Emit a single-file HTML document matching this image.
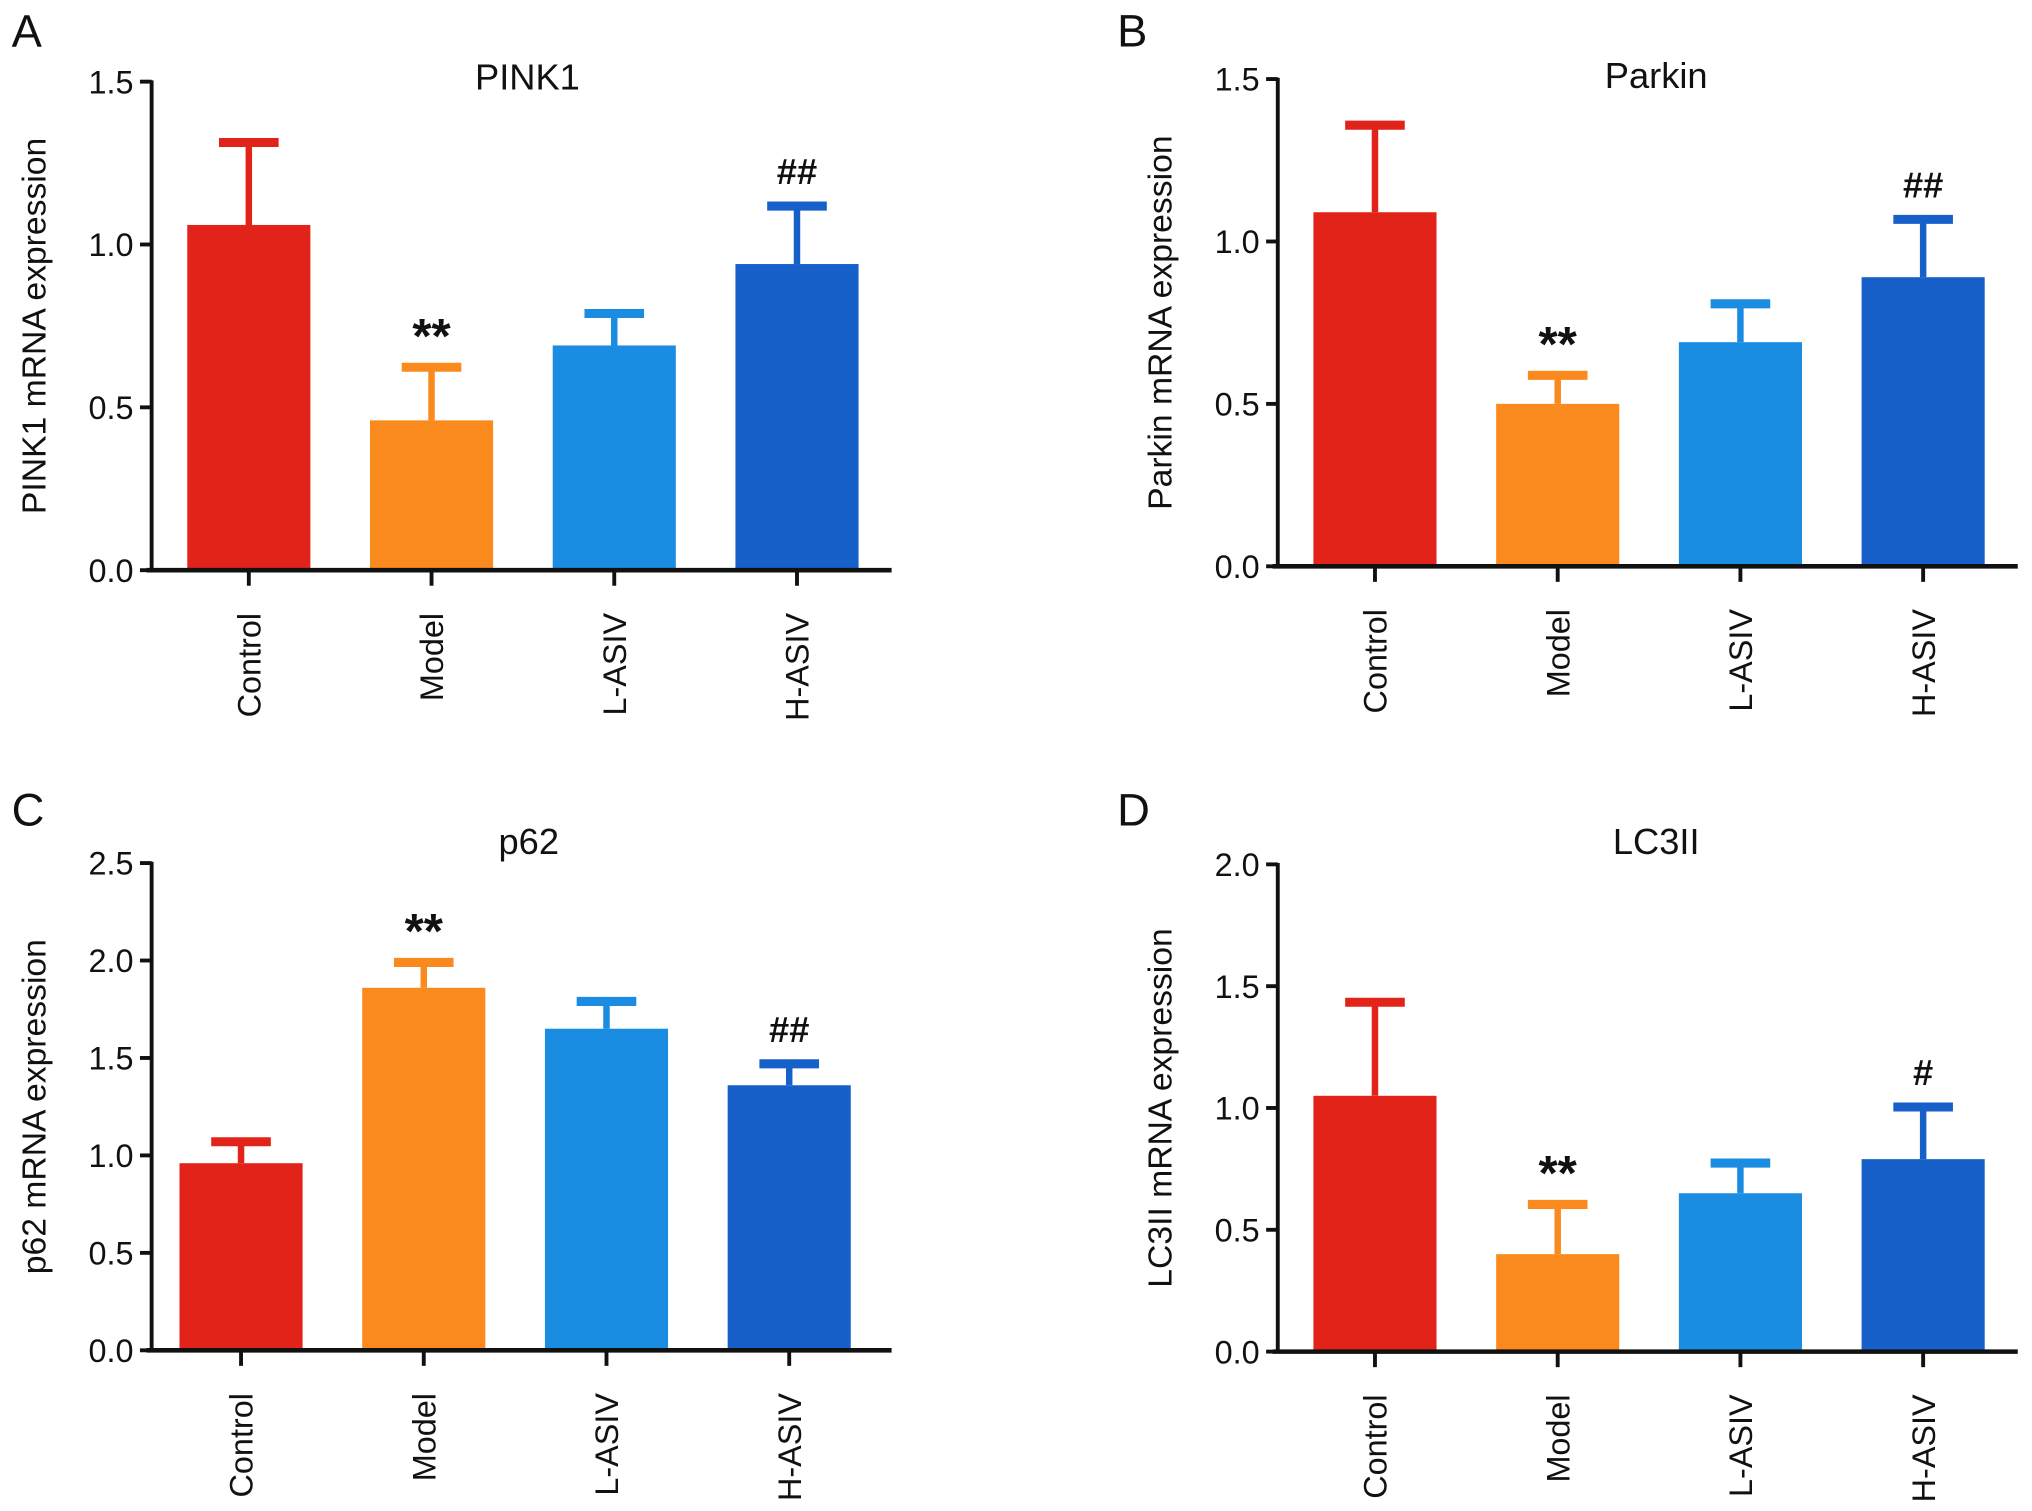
<!DOCTYPE html>
<html><head><meta charset="utf-8"><style>
html,body{margin:0;padding:0;background:#fff;}
svg{display:block;font-family:"Liberation Sans",Arial,sans-serif;}
</style></head><body>
<svg id="fig" width="2032" height="1511" viewBox="0 0 1568 1166" preserveAspectRatio="none" xmlns="http://www.w3.org/2000/svg"></svg>
<script>
const categories = ["Control","Model","L-ASIV","H-ASIV"];
const colors = ["#e2231a","#fb8a1e","#1a8ce2","#1760c9"];
const pinkMeans = [1.06,0.46,0.69,0.94];
const pinkErr = [0.265,0.175,0.11,0.19];
const pinkSig = ["","**","","##"];
const parkinMeans = [1.09,0.50,0.69,0.89];
const parkinErr = [0.28,0.10,0.13,0.19];
const parkinSig = ["","**","","##"];
const p62Means = [0.96,1.86,1.65,1.36];
const p62Err = [0.13,0.15,0.16,0.13];
const p62Sig = ["","**","","##"];
const lc3Means = [1.05,0.40,0.65,0.79];
const lc3Err = [0.40,0.22,0.14,0.23];
const lc3Sig = ["","**","","#"];
const ticks15 = [0,0.5,1.0,1.5];
const ticks25 = [0,0.5,1.0,1.5,2.0,2.5];
const ticks20 = [0,0.5,1.0,1.5,2.0];

const NS="http://www.w3.org/2000/svg";
const svg=document.getElementById('fig');
function mk(tag,attrs,parent){const e=document.createElementNS(NS,tag);for(const k in attrs)e.setAttribute(k,attrs[k]);(parent||svg).appendChild(e);return e;}

function panel(opt){
  const g=mk('g',{});
  
  
  const ax=opt.ax, yTop=opt.yTop, y0=opt.y0, yMax=opt.ticks[opt.ticks.length-1];
  const y=v=>y0-(v/yMax)*(y0-yTop);
  const x0=opt.firstCenter, step=141, bw=95;
  const xc=i=>x0+i*step;
  const L=mk('text',{x:opt.lx,y:opt.ly,'font-size':35,fill:'#111'},g);L.textContent=opt.letter;
  
  
  const T=mk('text',{x:opt.tx,y:opt.ty,'font-size':28,'text-anchor':'middle',fill:'#111'},g);T.textContent=opt.title;
  
  
  const yt=mk('text',{x:0,y:0,'font-size':26,'text-anchor':'middle',fill:'#111',transform:`translate(${ax-82},${(yTop+y0)/2}) rotate(-90)`},g);yt.textContent=opt.ylabel;
  
  
  opt.means.forEach((m,i)=>{
    const top=y(m+opt.err[i]);
    const b=mk('rect',{x:xc(i)-bw/2,y:y(m),width:bw,height:y0-y(m),fill:colors[i]},g);
    
    
    const e=mk('line',{x1:xc(i),x2:xc(i),y1:y(m),y2:top,stroke:colors[i],'stroke-width':5},g);
    
    
    const c=mk('line',{x1:xc(i)-23,x2:xc(i)+23,y1:top+3,y2:top+3,stroke:colors[i],'stroke-width':7},g);
    
    
    if(opt.sig[i]){
      const star=opt.sig[i].startsWith('*');
      const s=mk('text',{x:xc(i),y:top-(star?8:14),'font-size':star?38:28,'font-weight':'bold','text-anchor':'middle',fill:'#111'},g);
      s.textContent=opt.sig[i];
      
      
    }
    const tk=mk('line',{x1:xc(i),x2:xc(i),y1:y0,y2:y0+12,stroke:'#111','stroke-width':3},g);
    
    
    const cl=mk('text',{x:0,y:0,'font-size':25,'text-anchor':'end',fill:'#111',transform:`translate(${xc(i)+9},${y0+33}) rotate(-90)`},g);
    cl.textContent=categories[i];
    
    
  });
  const ya=mk('line',{x1:ax,x2:ax,y1:yTop-1,y2:y0+1.5,stroke:'#111','stroke-width':3},g);
  
  
  const xa=mk('line',{x1:ax-4,x2:ax+571,y1:y0,y2:y0,stroke:'#111','stroke-width':3.5},g);
  
  
  opt.ticks.forEach(t=>{
    const tl=mk('line',{x1:ax-9,x2:ax,y1:y(t),y2:y(t),stroke:'#111','stroke-width':3},g);
    
    
    const tt=mk('text',{x:ax-14,y:y(t)+9,'font-size':25,'text-anchor':'end',fill:'#111'},g);
    tt.textContent=t.toFixed(1);
    
    
  });
}
panel({name:'panel-a-pink1',letter:'A',lx:9,ly:36,title:'PINK1',tx:407,ty:69,ylabel:'PINK1 mRNA expression',ax:117,yTop:63,y0:440,firstCenter:192,means:pinkMeans,err:pinkErr,sig:pinkSig,ticks:ticks15});
panel({name:'panel-b-parkin',letter:'B',lx:862,ly:36,title:'Parkin',tx:1278,ty:68,ylabel:'Parkin mRNA expression',ax:986,yTop:61,y0:437,firstCenter:1061,means:parkinMeans,err:parkinErr,sig:parkinSig,ticks:ticks15});
panel({name:'panel-c-p62',letter:'C',lx:9,ly:637,title:'p62',tx:408,ty:659,ylabel:'p62 mRNA expression',ax:117,yTop:666,y0:1042,firstCenter:186,means:p62Means,err:p62Err,sig:p62Sig,ticks:ticks25});
panel({name:'panel-d-lc3ii',letter:'D',lx:862,ly:637,title:'LC3II',tx:1278,ty:659,ylabel:'LC3II mRNA expression',ax:986,yTop:667,y0:1043,firstCenter:1061,means:lc3Means,err:lc3Err,sig:lc3Sig,ticks:ticks20});
</script>
</body></html>
